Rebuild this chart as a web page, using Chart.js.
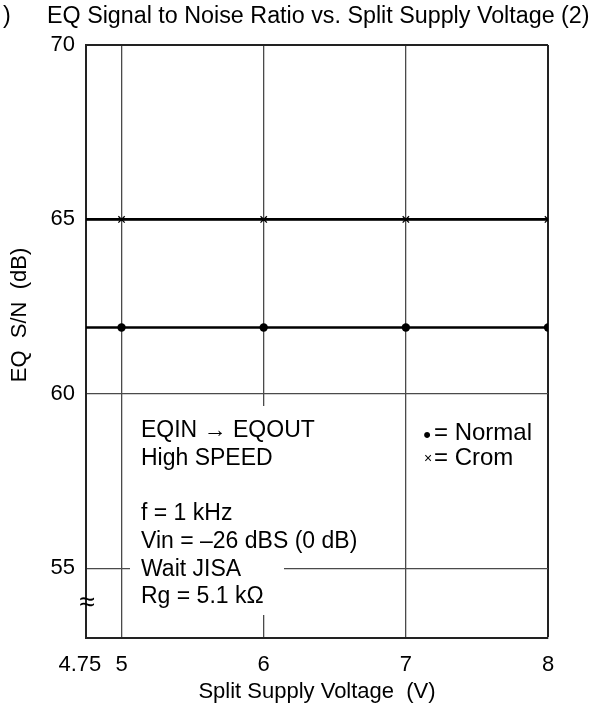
<!DOCTYPE html>
<html><head><meta charset="utf-8">
<script src="https://cdn.jsdelivr.net/npm/chart.js@4"></script>
<style>html,body{margin:0;padding:0;background:#fff}#wrap{width:599px;height:708px;position:relative}</style>
</head><body><div id="wrap"><canvas id="c"></canvas></div>
<script>
// ---- data ----
const xValues = [4.75, 5, 6, 7, 8];
const normalValues = [61.9, 61.9, 61.9, 61.9, 61.9];
const cromValues = [65, 65, 65, 65, 65];
const xTicks = [4.75, 5, 6, 7, 8];
const yTicks = [55, 60, 65, 70];
const titleText = 'EQ Signal to Noise Ratio vs. Split Supply Voltage (2)';
const xTitle = 'Split Supply Voltage  (V)';
const yTitle = 'EQ  S/N  (dB)';
const noteLines = ['EQIN \u2192 EQOUT', 'High SPEED', '', 'f = 1 kHz', 'Vin = \u201326 dBS (0 dB)', 'Wait JISA', 'Rg = 5.1 k\u03A9'];
const legendSymbols = ['\u2022', '\u00D7'];
const legendLabels = ['= Normal', '= Crom'];

const F = '"Liberation Sans", Arial, Helvetica, sans-serif';
const GRID = '#4a4a4a';
const EDGE = '#222222';

const overlay = {
  id: 'overlay',
  beforeDatasetsDraw(chart) {
    const ctx = chart.ctx;
    ctx.save();
    ctx.fillStyle = '#fff';
    ctx.fillRect(130, 406, 154, 209);
    ctx.restore();
  },
  afterDraw(chart) {
    const ctx = chart.ctx;
    ctx.save();
    ctx.fillStyle = '#000';
    ctx.textBaseline = 'alphabetic';
    ctx.textAlign = 'left';
    ctx.font = '23.3px ' + F;
    ctx.fillText(titleText, 47, 23);
    ctx.fillText(')', 3, 23);
    // y title
    ctx.save();
    ctx.translate(26, 315);
    ctx.rotate(-Math.PI / 2);
    ctx.textAlign = 'center';
    ctx.font = '22px ' + F;
    ctx.fillText(yTitle, 0, 0);
    ctx.restore();
    // notes
    ctx.font = '23px ' + F;
    noteLines.forEach((t, i) => { if (t) ctx.fillText(t, 141, 437 + i * 27.7); });
    // legend
    ctx.textAlign = 'center';
    ctx.font = '22px ' + F;
    ctx.fillText(legendSymbols[0], 427, 442);
    ctx.font = '14px ' + F;
    ctx.fillText(legendSymbols[1], 428, 463);
    ctx.textAlign = 'left';
    ctx.font = '24px ' + F;
    ctx.fillText(legendLabels[0], 434, 440);
    ctx.fillText(legendLabels[1], 434, 465);
    // axis break mark
    ctx.textAlign = 'center';
    ctx.textBaseline = 'middle';
    ctx.font = '28px ' + F;
    ctx.fillText('\u2248', 87, 603);
    ctx.restore();
  }
};

const pts = arr => xValues.map((x, i) => ({ x: x, y: arr[i] }));

new Chart(document.getElementById('c'), {
  type: 'line',
  data: {
    datasets: [
      { label: 'Normal', data: pts(normalValues), borderColor: '#000', borderWidth: 2.6,
        pointStyle: 'circle', pointRadius: c => c.dataIndex === 0 ? 0 : 4.2,
        pointBackgroundColor: '#000', pointBorderColor: '#000', pointBorderWidth: 0 },
      { label: 'Crom', data: pts(cromValues), borderColor: '#000', borderWidth: 2.6,
        pointStyle: 'crossRot', pointRadius: c => c.dataIndex === 0 ? 0 : 4.5,
        pointBackgroundColor: '#000', pointBorderColor: '#000', pointBorderWidth: 1.3 }
    ]
  },
  options: {
    responsive: true, maintainAspectRatio: false, animation: false,
    layout: { padding: { top: 45, right: 51, bottom: 0, left: 0 } },
    plugins: { legend: { display: false }, tooltip: { enabled: false }, title: { display: false } },
    scales: {
      x: {
        type: 'linear', min: 4.75, max: 8,
        afterBuildTicks: s => { s.ticks = xTicks.map(v => ({ value: v })); },
        afterFit: s => { s.height = 70; },
        ticks: { autoSkip: false, maxRotation: 0, color: '#000', padding: 14, font: { family: F, size: 22 },
          callback: v => v === 4.75 ? '4.75  ' : String(v) },
        grid: { drawTicks: false, color: c => (c.tick && c.tick.value === 8) ? EDGE : GRID,
          lineWidth: c => (c.tick && c.tick.value === 8) ? 2 : 1.3 },
        border: { display: true, color: EDGE, width: 2 },
        title: { display: true, text: xTitle, color: '#000', font: { family: F, size: 22 }, padding: { top: 0, bottom: 3 } }
      },
      y: {
        type: 'linear', min: 53, max: 70,
        afterBuildTicks: s => { s.ticks = yTicks.map(v => ({ value: v })); },
        afterFit: s => { s.width = 86; },
        ticks: { color: '#000', padding: 11, font: { family: F, size: 22 } },
        grid: { drawTicks: false, color: c => (c.tick && c.tick.value === 70) ? EDGE : GRID,
          lineWidth: c => (c.tick && c.tick.value === 70) ? 2 : 1.3 },
        border: { display: true, color: EDGE, width: 2 }
      }
    }
  },
  plugins: [overlay]
});
</script></body></html>
